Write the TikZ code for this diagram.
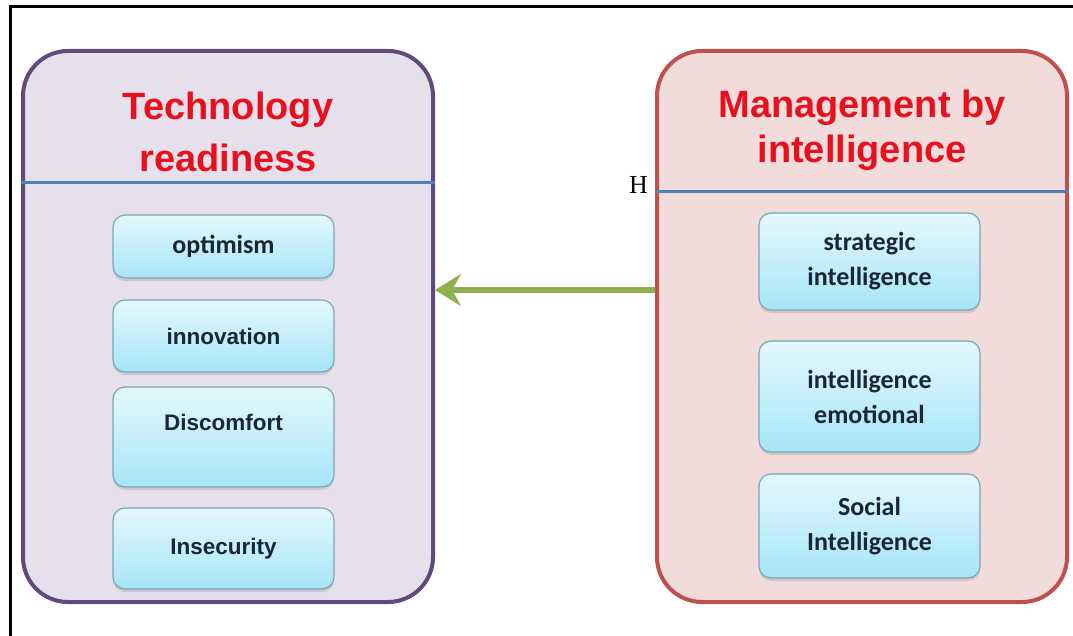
\documentclass[tikz,border=0pt]{standalone}
\usepackage{fontspec}
\setmainfont{Liberation Sans}
\newfontfamily\calfont{Carlito}
\newfontfamily\hfont{Liberation Serif}
\usetikzlibrary{arrows.meta,shadows}
\definecolor{lavfill}{HTML}{E6E0EC}
\definecolor{lavline}{HTML}{604A7B}
\definecolor{pinkfill}{HTML}{F2DCDB}
\definecolor{pinkline}{HTML}{C0504D}
\definecolor{splitblue}{HTML}{4F81BD}
\definecolor{titlered}{HTML}{E8101C}
\definecolor{cyantop}{HTML}{E4F8FD}
\definecolor{cyanbot}{HTML}{A6E5F8}
\definecolor{cyanline}{HTML}{7AA6B4}
\definecolor{itemtext}{HTML}{1A2633}
\definecolor{arrowgreen}{HTML}{8EB04E}
\begin{document}
\begin{tikzpicture}[x=1pt, y=-1pt,
    bigbox/.style={rounded corners=45pt, line width=4pt, minimum width=410pt, minimum height=551pt},
    heading/.style={text=titlered, align=center, inner sep=0pt},
    split/.style={draw=splitblue, line width=3pt},
    item/.style={rounded corners=12pt, draw=cyanline, line width=1.2pt, top color=cyantop, bottom color=cyanbot,
        text=itemtext, align=center, inner sep=0pt, minimum width=221pt,
        drop shadow={shadow xshift=0pt, shadow yshift=-3pt, opacity=0.25}},
    calitem/.style={item, font=\calfont\bfseries\fontsize{26}{35}\selectfont},
    arialitem/.style={item, font=\bfseries\fontsize{22.5}{28}\selectfont}]
    \useasboundingbox (0,0) rectangle (1073,636);
    % frame
    \draw[line width=3pt] (10,636) -- (10,7) -- (1073,7);

    % Technology readiness
    \node[bigbox, draw=lavline, fill=lavfill] (tr) at (228,326.5) {};
    \coordinate (trsplit) at (0,183);
    \draw[split] (tr.west |- trsplit) -- (tr.east |- trsplit);
    \node[heading, font=\bfseries\fontsize{38}{52}\selectfont] (trtitle) at (228,132) {Technology\\readiness};
    \node[calitem, minimum height=63pt] (optimism) at (223.5,246.5) {optimism};
    \node[arialitem, minimum height=72pt] (innovation) at (223.5,336) {innovation};
    \node[arialitem, minimum height=100pt, text height=17pt, text depth=31pt] (discomfort) at (223.5,437) {Discomfort};
    \node[arialitem, minimum height=81pt, text height=17pt, text depth=5pt] (insecurity) at (223.5,548.5) {Insecurity};

    % Management by intelligence
    \node[bigbox, draw=pinkline, fill=pinkfill] (mbi) at (862,326.5) {};
    \coordinate (mbisplit) at (0,192);
    \draw[split] (655,192) coordinate (hpoint) -- (mbi.east |- mbisplit);
    \node[anchor=base east, inner sep=0pt, font=\hfont\fontsize{26}{30}\selectfont] (hmark) at (648,194) {H};
    \node[heading, font=\bfseries\fontsize{38}{45}\selectfont] (mbititle) at (862,130.7) {Management by\\intelligence};
    \node[calitem, minimum height=97pt] (strategic) at (869.5,261.5) {strategic\\intelligence};
    \node[calitem, minimum height=111pt] (emotional) at (869.5,396.5) {intelligence\\emotional};
    \node[calitem, minimum height=104pt] (social) at (869.5,526) {Social\\Intelligence};

    % link
    \coordinate (linky) at (0,290);
    \draw[arrowgreen, line width=6.5pt, -{Stealth[length=26pt, width=32pt, inset=9pt]}]
        (mbi.west |- linky) -- (tr.east |- linky);
\end{tikzpicture}
\end{document}
